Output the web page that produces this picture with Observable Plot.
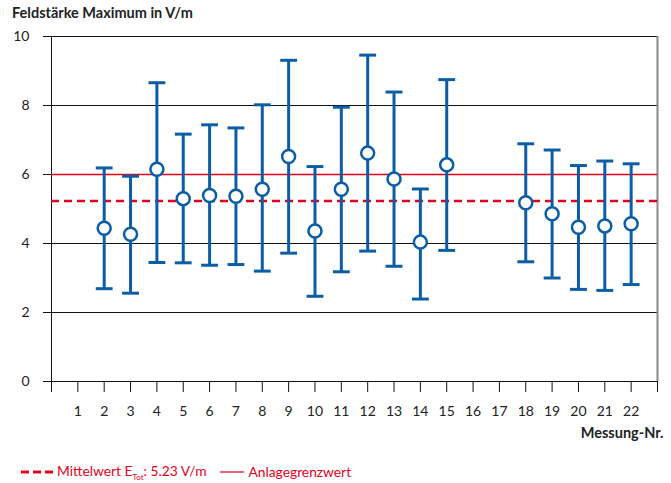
<!DOCTYPE html>
<html>
<head>
<meta charset="utf-8">
<script src="https://cdn.jsdelivr.net/npm/d3@7"></script>
<script src="https://cdn.jsdelivr.net/npm/@observablehq/plot@0.6"></script>
<style>
  body { margin: 0; background: #fff; font-family: Lato, "Open Sans", sans-serif; }
  #title { font-weight: bold; font-size: 14.5px; color: #222; padding: 4px 0 0 12px; height: 20px; }
  #legend { color: #e3001b; font-size: 13.8px; padding: 8px 0 0 21px; display: flex; align-items: center; }
  #legend sub { font-size: 8px; }
</style>
</head>
<body>
<div id="title">Feldstärke Maximum in V/m</div>
<div id="chart"></div>
<div id="legend">
  <svg width="32" height="4" style="margin-right:4px"><line x1="0" x2="32" y1="2" y2="2" stroke="#e3001b" stroke-width="3" stroke-dasharray="8,4"/></svg>
  <span>Mittelwert E<sub>Tot</sub>: 5.23 V/m</span>
  <svg width="24" height="4" style="margin-left:14px;margin-right:4px"><line x1="0" x2="24" y1="2" y2="2" stroke="#e3001b" stroke-width="1.2"/></svg>
  <span>Anlagegrenzwert</span>
</div>
<script>
const messung = [2, 3, 4, 5, 6, 7, 8, 9, 10, 11, 12, 13, 14, 15, 18, 19, 20, 21, 22];
const mittel  = [4.44, 4.27, 6.15, 5.30, 5.39, 5.37, 5.57, 6.52, 4.36, 5.57, 6.62, 5.87, 4.04, 6.28, 5.18, 4.86, 4.47, 4.51, 4.57];
const minimum = [2.69, 2.56, 3.45, 3.44, 3.37, 3.39, 3.20, 3.72, 2.47, 3.18, 3.78, 3.34, 2.39, 3.80, 3.47, 3.00, 2.67, 2.64, 2.81];
const maximum = [6.19, 5.95, 8.66, 7.17, 7.44, 7.35, 8.02, 9.31, 6.23, 7.95, 9.46, 8.39, 5.58, 8.75, 6.89, 6.71, 6.26, 6.39, 6.31];
const xTicks = d3.range(0, 24);
const xLabels = d3.range(1, 23);
const yTicks = [0, 2, 4, 6, 8, 10];
const grenzwert = 6;
const mittelwert = 5.23;

const blue = "#0b5ea6";
const red = "#e3001b";
const data = messung.map((m, i) => ({nr: m, mean: mittel[i], lo: minimum[i], hi: maximum[i]}));
const capHalf = 0.32;

const plot = Plot.plot({
  width: 671,
  height: 430,
  marginLeft: 51,
  marginRight: 14,
  marginTop: 12,
  marginBottom: 73,
  style: {fontFamily: "Lato, 'Open Sans', sans-serif", fontSize: "14px", color: "#222"},
  x: {domain: [0, 23], axis: null},
  y: {domain: [0, 10], axis: null},
  marks: [
    Plot.ruleY(yTicks, {stroke: "#111", strokeWidth: 1}),
    Plot.ruleX([23], {stroke: "#888", strokeWidth: 2}),
    Plot.ruleX([0], {stroke: "#111", strokeWidth: 1}),
    Plot.axisY({ticks: yTicks, tickSize: 8, tickPadding: 14, stroke: "#111", label: null, fontSize: 14}),
    Plot.axisX({ticks: xTicks, tickSize: 11, tickFormat: () => "", stroke: "#111", label: null}),
    Plot.axisX({ticks: xLabels, tickSize: 0, tickPadding: 25, label: null, fontSize: 14}),
    Plot.text(["Messung-Nr."], {frameAnchor: "bottom-right", dy: 56, dx: 6, textAnchor: "end", fontWeight: "bold", fontSize: 14.5}),
    Plot.ruleY([grenzwert], {stroke: red, strokeWidth: 1.3}),
    Plot.ruleY([mittelwert], {stroke: red, strokeWidth: 2.5, strokeDasharray: "8,5"}),
    Plot.ruleX(data, {x: "nr", y1: "lo", y2: "hi", stroke: blue, strokeWidth: 3}),
    Plot.link(data, {x1: d => d.nr - capHalf, x2: d => d.nr + capHalf, y1: "hi", y2: "hi", stroke: blue, strokeWidth: 3}),
    Plot.link(data, {x1: d => d.nr - capHalf, x2: d => d.nr + capHalf, y1: "lo", y2: "lo", stroke: blue, strokeWidth: 3}),
    Plot.dot(data, {x: "nr", y: "mean", r: 6.5, fill: "white", stroke: blue, strokeWidth: 2.5})
  ]
});
document.getElementById("chart").appendChild(plot);
</script>
</body>
</html>
